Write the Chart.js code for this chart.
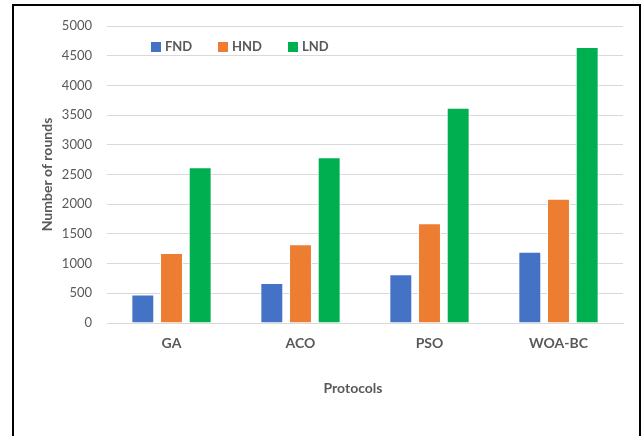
<!DOCTYPE html>
<html>
<head>
<meta charset="utf-8">
<script src="https://cdn.jsdelivr.net/npm/chart.js@4.4.1/dist/chart.umd.min.js"></script>
<style>
  html, body { margin: 0; padding: 0; background: #fff; }
  #wrap { position: relative; width: 643px; height: 436px; overflow: hidden; }
  #roundsChart { position: absolute; left: 0; top: 0; }
  #frame {
    position: absolute; left: 12px; top: 4px;
    width: 625px; height: 440px;
    border: 2px solid #000; pointer-events: none;
  }
</style>
</head>
<body>
<div id="wrap">
  <canvas id="roundsChart" width="643" height="436"></canvas>
  <div id="frame"></div>
</div>
<script>
// Số vòng theo từng giao thức
const protocols = ["GA", "ACO", "PSO", "WOA-BC"];
const fndRounds = [480, 675, 820, 1200];
const hndRounds = [1180, 1325, 1680, 2090];
const lndRounds = [2620, 2790, 3625, 4645];
const seriesNames = ["FND", "HND", "LND"];
const seriesColors = ["#4472C4", "#ED7D31", "#00B050"];

const textGrey = "#595959";
const fontFamily = "Lato, 'Open Sans', sans-serif";

// Chú thích và tiêu đề trục X vẽ tay trên canvas
const legendAndTitle = {
  id: "legendAndTitle",
  afterDraw(chart) {
    const ctx = chart.ctx;
    ctx.save();
    ctx.font = "bold 13px " + fontFamily;
    ctx.textBaseline = "middle";
    ctx.textAlign = "left";
    const xs = [151, 218, 288];
    chart.data.datasets.forEach((ds, i) => {
      ctx.fillStyle = ds.backgroundColor;
      ctx.fillRect(xs[i], 42, 10, 10);
      ctx.fillStyle = textGrey;
      ctx.fillText(ds.label, xs[i] + 14, 47);
    });
    ctx.font = "bold 14px " + fontFamily;
    ctx.textAlign = "center";
    ctx.fillText("Protocols", 353, 388);
    ctx.restore();
  },
};

const datasets = [fndRounds, hndRounds, lndRounds].map((values, i) => ({
  label: seriesNames[i],
  data: values,
  backgroundColor: seriesColors[i],
  borderColor: "#ffffff",
  borderWidth: 1,
  categoryPercentage: 0.667,
  barPercentage: 0.8,
}));

new Chart(document.getElementById("roundsChart").getContext("2d"), {
  type: "bar",
  data: { labels: protocols, datasets: datasets },
  plugins: [legendAndTitle],
  options: {
    responsive: false,
    animation: false,
    layout: { padding: { top: 26, right: 20, bottom: 0, left: 0 } },
    plugins: {
      legend: { display: false },
      tooltip: { enabled: false },
    },
    scales: {
      x: {
        grid: { display: false, drawTicks: false },
        border: { display: true, color: "#d9d9d9" },
        ticks: {
          color: textGrey,
          padding: 12,
          font: { family: fontFamily, size: 14, weight: "bold" },
        },
        afterFit(scale) {
          scale.height = 113;
        },
      },
      y: {
        min: 0,
        max: 5000,
        ticks: {
          stepSize: 500,
          color: textGrey,
          padding: 15,
          font: { family: fontFamily, size: 13 },
          callback: (value) => String(value),
        },
        grid: { color: "#d9d9d9", drawTicks: false },
        border: { display: false },
        title: {
          display: true,
          text: "Number of rounds",
          color: textGrey,
          padding: { top: 39, bottom: 0 },
          font: { family: fontFamily, size: 14, weight: "bold" },
        },
        afterFit(scale) {
          scale.width = 107;
        },
      },
    },
  },
});
</script>
</body>
</html>
